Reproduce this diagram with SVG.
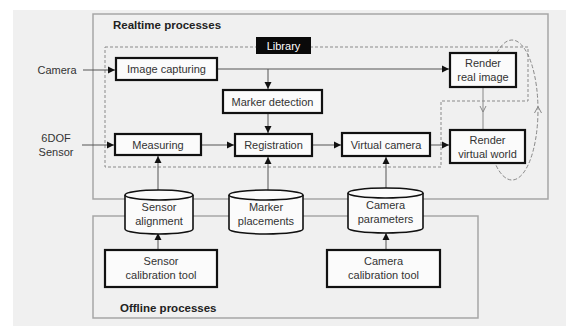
<svg xmlns="http://www.w3.org/2000/svg" width="566" height="326" viewBox="0 0 566 326">
<defs>
<marker id="ah" markerUnits="userSpaceOnUse" markerWidth="8" markerHeight="8" refX="7" refY="4" orient="auto">
<path d="M0,0.5 L7,4 L0,7.5 Z" fill="#111"/>
</marker>
<style>
.t{font-family:"Liberation Sans",Arial,sans-serif;font-size:11px;fill:#333;text-anchor:middle}
.tb{font-family:"Liberation Sans",Arial,sans-serif;font-size:11.5px;font-weight:bold;fill:#222}
.box{fill:#fbfbfb;stroke:#111;stroke-width:2.2}
.cyl{fill:#fbfbfb;stroke:#111;stroke-width:1.6}
.area{fill:none;stroke:#a6a6a6;stroke-width:1.5}
.dash{fill:none;stroke:#8a8a8a;stroke-width:1;stroke-dasharray:3,2}
.ln{fill:none;stroke:#555;stroke-width:1}
.arr{fill:none;stroke:#555;stroke-width:1;marker-end:url(#ah)}
.thin{fill:none;stroke:#888;stroke-width:1}
</style>
</defs>
<rect x="0" y="0" width="566" height="326" fill="#ffffff"/>
<rect x="13" y="10" width="553" height="316" fill="#f0f0f0"/>

<g id="realtime-area">
<rect class="area" x="93" y="14" width="455" height="185"/>
<text class="tb" x="113" y="29">Realtime processes</text>
</g>
<g id="offline-area">
<rect class="area" x="93" y="216" width="385" height="102"/>
<text class="tb" x="120" y="312">Offline processes</text>
</g>
<g id="library">
<path class="dash" d="M105,47 H528 V101 H441 V167 H105 Z"/>
<rect x="256" y="37" width="55" height="17" fill="#0a0a0a"/>
<text class="t" x="283.5" y="49.5" style="fill:#fff">Library</text>
</g>

<g id="loop">
<path d="M496.9,53 A26,70 0 1,1 495,163" fill="none" stroke="#888" stroke-width="1" stroke-dasharray="4,2"/>
<path class="thin" d="M534.5,113 L538,106.5 L541.5,113"/>
</g>

<g id="connectors">
<path class="arr" d="M83,70 H115"/>
<path class="arr" d="M82,145 H114"/>
<path class="arr" d="M218,69 H449"/>
<path class="arr" d="M268,69 V89"/>
<path class="arr" d="M268,114 V133"/>
<path class="arr" d="M202,145 H234"/>
<path class="arr" d="M313,145 H341"/>
<path class="arr" d="M431,145 H449"/>
<path class="thin" d="M483,88 V129"/>
<path class="thin" d="M480,106 L483,112 L486,106"/>
<path class="arr" d="M158,190 V156"/>
<path class="arr" d="M268,190 V157"/>
<path class="arr" d="M386,188 V157"/>
<path class="arr" d="M158,250 V233"/>
<path class="arr" d="M386,250 V233"/>
</g>

<g id="camera-input"><text class="t" x="57" y="74">Camera</text></g>
<g id="sensor-input"><text class="t" x="56" y="142">6DOF</text><text class="t" x="56" y="156">Sensor</text></g>

<g id="image-capturing">
<rect class="box" x="116" y="58" width="101" height="22"/>
<text class="t" x="166.5" y="73">Image capturing</text>
</g>
<g id="marker-detection">
<rect class="box" x="223" y="90" width="99" height="23"/>
<text class="t" x="272.5" y="105.5">Marker detection</text>
</g>
<g id="render-real-image">
<rect class="box" x="450" y="53" width="66" height="34"/>
<text class="t" x="483" y="67">Render</text>
<text class="t" x="483" y="81">real image</text>
</g>
<g id="measuring">
<rect class="box" x="115" y="134" width="86" height="21"/>
<text class="t" x="158" y="148.5">Measuring</text>
</g>
<g id="registration">
<rect class="box" x="235" y="134" width="77" height="22"/>
<text class="t" x="273.5" y="149">Registration</text>
</g>
<g id="virtual-camera">
<rect class="box" x="342" y="133" width="88" height="23"/>
<text class="t" x="386" y="148.5">Virtual camera</text>
</g>
<g id="render-virtual-world">
<rect class="box" x="450" y="130" width="75" height="33"/>
<text class="t" x="487.5" y="143.5">Render</text>
<text class="t" x="487.5" y="157.5">virtual world</text>
</g>

<g id="sensor-alignment">
<path class="cyl" d="M125,195 A34,5 0 0,1 193,195 V229 A34,5 0 0,1 125,229 Z"/>
<path class="cyl" d="M125,195 A34,5 0 0,0 193,195" fill="none"/>
<text class="t" x="159" y="211">Sensor</text>
<text class="t" x="159" y="225">alignment</text>
</g>
<g id="marker-placements">
<path class="cyl" d="M229,195 A37,5 0 0,1 303,195 V229 A37,5 0 0,1 229,229 Z"/>
<path class="cyl" d="M229,195 A37,5 0 0,0 303,195" fill="none"/>
<text class="t" x="266" y="211">Marker</text>
<text class="t" x="266" y="225">placements</text>
</g>
<g id="camera-parameters">
<path class="cyl" d="M348,193 A37.5,5 0 0,1 423,193 V228 A37.5,5 0 0,1 348,228 Z"/>
<path class="cyl" d="M348,193 A37.5,5 0 0,0 423,193" fill="none"/>
<text class="t" x="385.5" y="209">Camera</text>
<text class="t" x="385.5" y="223">parameters</text>
</g>

<g id="sensor-calibration-tool">
<rect class="box" x="105" y="250" width="112" height="37"/>
<text class="t" x="161" y="265">Sensor</text>
<text class="t" x="161" y="279">calibration tool</text>
</g>
<g id="camera-calibration-tool">
<rect class="box" x="327" y="250" width="113" height="37"/>
<text class="t" x="383.5" y="265">Camera</text>
<text class="t" x="383.5" y="279">calibration tool</text>
</g>
</svg>
